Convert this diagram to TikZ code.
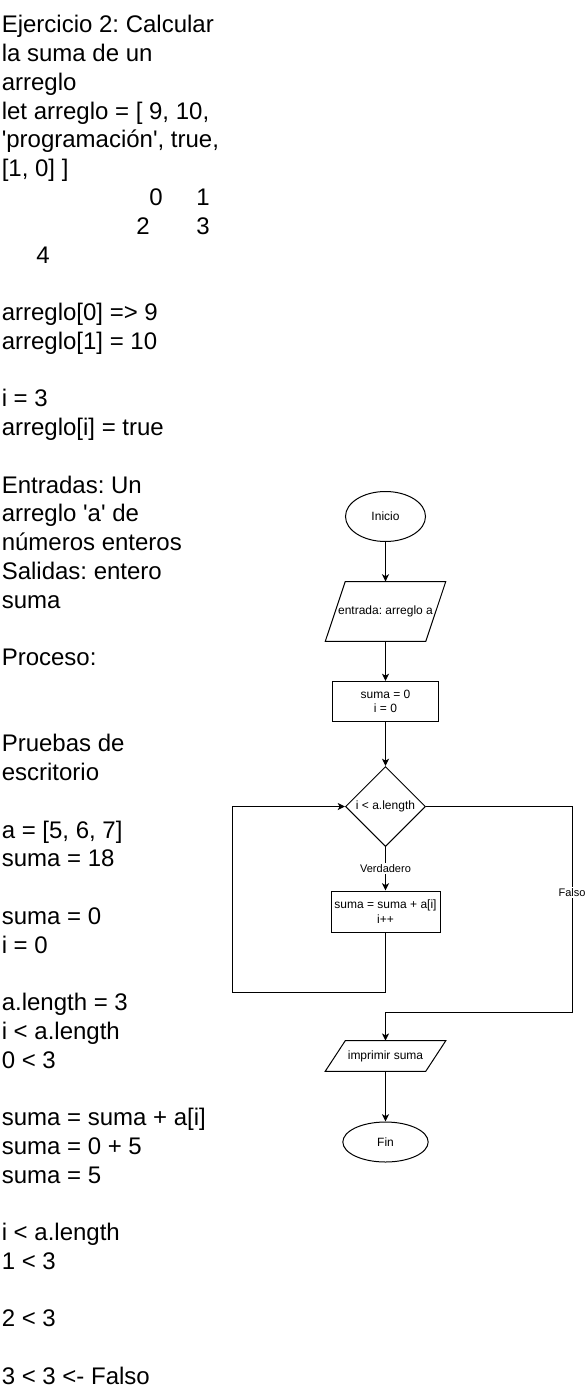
\documentclass[tikz,border=0pt]{standalone}
\usepackage{fontspec}
\setmainfont{Liberation Sans}
\usetikzlibrary{shapes.geometric,arrows.meta}
\frenchspacing
\newcommand{\mytxt}[4]{\node[lefttext] (#1) at (#2,{33+28.75*(#3-1)}) {#4};}
\begin{document}
\frenchspacing
\begin{tikzpicture}[x=0.75pt,y=-0.75pt,
  lefttext/.style={anchor=base west, inner sep=0pt, font=\fontsize{18pt}{21.6pt}\selectfont\frenchspacing},
  fc/.style={font=\fontsize{9pt}{10.8pt}\selectfont\frenchspacing, align=center, inner sep=0pt},
  lbl/.style={font=\fontsize{8.25pt}{9.9pt}\selectfont, fill=white, inner sep=1pt},
  line/.style={draw=black, line width=0.75pt},
  arr/.style={line, -{Stealth[length=5.5pt,width=5.25pt,inset=1.5pt]}},
]
\useasboundingbox (0,0) rectangle (585,1391);

% left text column
\mytxt{t1}{1.5}{1}{Ejercicio 2: Calcular}
\mytxt{t2}{1.5}{2}{la suma de un}
\mytxt{t3}{1.5}{3}{arreglo}
\mytxt{t4}{1.5}{4}{let arreglo = [ 9, 10,}
\mytxt{t5}{1.5}{5}{\textquotesingle programación\textquotesingle, true,}
\mytxt{t6}{1.5}{6}{[1, 0] ]}
\mytxt{t7a}{149}{7}{0}
\mytxt{t7b}{196}{7}{1}
\mytxt{t8a}{136}{8}{2}
\mytxt{t8b}{196}{8}{3}
\mytxt{t9}{36}{9}{4}
\mytxt{t11}{1.5}{11}{arreglo[0] => 9}
\mytxt{t12}{1.5}{12}{arreglo[1] = 10}
\mytxt{t14}{1.5}{14}{i = 3}
\mytxt{t15}{1.5}{15}{arreglo[i] = true}
\mytxt{t17}{1.5}{17}{Entradas: Un}
\mytxt{t18}{1.5}{18}{arreglo \textquotesingle a\textquotesingle{} de}
\mytxt{t19}{1.5}{19}{números enteros}
\mytxt{t20}{1.5}{20}{Salidas: entero}
\mytxt{t21}{1.5}{21}{suma}
\mytxt{t23}{1.5}{23}{Proceso:}
\mytxt{t26}{1.5}{26}{Pruebas de}
\mytxt{t27}{1.5}{27}{escritorio}
\mytxt{t29}{1.5}{29}{a = [5, 6, 7]}
\mytxt{t30}{1.5}{30}{suma = 18}
\mytxt{t32}{1.5}{32}{suma = 0}
\mytxt{t33}{1.5}{33}{i = 0}
\mytxt{t35}{1.5}{35}{a.length = 3}
\mytxt{t36}{1.5}{36}{i < a.length}
\mytxt{t37}{1.5}{37}{0 < 3}
\mytxt{t39}{1.5}{39}{suma = suma + a[i]}
\mytxt{t40}{1.5}{40}{suma = 0 + 5}
\mytxt{t41}{1.5}{41}{suma = 5}
\mytxt{t43}{1.5}{43}{i < a.length}
\mytxt{t44}{1.5}{44}{1 < 3}
\mytxt{t46}{1.5}{46}{2 < 3}
\mytxt{t48}{1.5}{48}{3 < 3 <- Falso}

% flowchart
\node[fc, ellipse, line, minimum width=60pt, minimum height=37.5pt] (inicio) at (385.5,516.5) {Inicio};
\node[fc, minimum width=90pt, minimum height=44.5pt] (entrada) at (385.5,611.5) {entrada: arreglo a};
\draw[line] ([xshift=15pt]entrada.north west) -- (entrada.north east) -- ([xshift=-15pt]entrada.south east) -- (entrada.south west) -- cycle;
\node[fc, rectangle, line, minimum width=79.5pt, minimum height=30pt] (init) at (385.5,701.5) {suma = 0\\i = 0};
\node[fc, diamond, line, minimum width=60pt, minimum height=60pt] (cond) at (385.5,806.5) {i < a.length};
\node[fc, rectangle, line, minimum width=81.75pt, minimum height=30.75pt] (body) at (385.5,911.5) {suma = suma + a[i]\\i++};
\node[fc, minimum width=90pt, minimum height=22.5pt] (salida) at (385.5,1056) {imprimir suma};
\draw[line] ([xshift=15pt]salida.north west) -- (salida.north east) -- ([xshift=-15pt]salida.south east) -- (salida.south west) -- cycle;
\node[fc, ellipse, line, minimum width=64pt, minimum height=30pt] (fin) at (385.5,1142) {Fin};

\draw[arr] (inicio) -- (entrada);
\draw[arr] (entrada) -- (init);
\draw[arr] (init) -- (cond);
\draw[arr] (cond) -- node[lbl] (verd) {Verdadero} (body);
\coordinate (lb) at (232,992);
\draw[arr] (body.south) |- (lb) |- (cond.west);
\coordinate (rb) at (572,1012);
\draw[arr] (cond.east) -| node[lbl,pos=0.71] (falso) {Falso} (rb) -| (salida.north);
\draw[arr] (salida) -- (fin);
\end{tikzpicture}
\end{document}
